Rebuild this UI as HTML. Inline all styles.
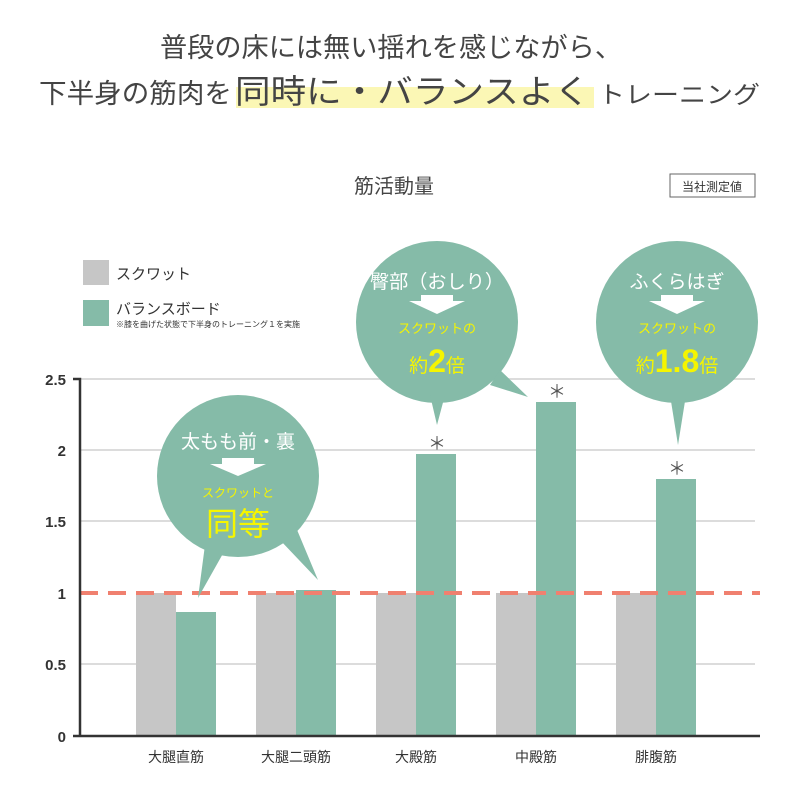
<!DOCTYPE html><html><head><meta charset="utf-8"><style>
body{margin:0;background:#fff;}
svg text{font-family:"Liberation Sans","Noto Sans CJK JP",sans-serif;}
</style></head><body>
<svg width="800" height="790" xmlns="http://www.w3.org/2000/svg">
<rect x="236" y="87" width="358" height="21" fill="#fbf7b5"/>
<text x="160" y="57" font-size="27" fill="#444" textLength="462" lengthAdjust="spacingAndGlyphs">普段の床には無い揺れを感じながら、</text>
<text x="39" y="103" font-size="27" fill="#444" textLength="193" lengthAdjust="spacingAndGlyphs">下半身の筋肉を</text>
<text x="235" y="103" font-size="33" fill="#444" textLength="355" lengthAdjust="spacingAndGlyphs">同時に・バランスよく</text>
<text x="598" y="103" font-size="24" fill="#444" textLength="162" lengthAdjust="spacingAndGlyphs">トレーニング</text>
<text x="394" y="193" font-size="20" fill="#444" text-anchor="middle">筋活動量</text>
<rect x="670" y="174" width="85" height="23" fill="#fff" stroke="#666" stroke-width="1"/>
<text x="712" y="191" font-size="12" fill="#333" text-anchor="middle">当社測定値</text>
<rect x="83" y="260" width="26" height="25" fill="#c6c6c6"/>
<text x="116" y="279" font-size="15" fill="#333">スクワット</text>
<rect x="83" y="300" width="26" height="26" fill="#85bba8"/>
<text x="116" y="314" font-size="15" fill="#333">バランスボード</text>
<text x="116" y="327" font-size="8" fill="#333">※膝を曲げた状態で下半身のトレーニング１を実施</text>
<g stroke="#dcdcdc" stroke-width="2">
<line x1="80" y1="379" x2="755" y2="379"/><line x1="80" y1="450" x2="755" y2="450"/><line x1="80" y1="521" x2="755" y2="521"/><line x1="80" y1="664" x2="755" y2="664"/>
</g>
<g fill="#c6c6c6">
<rect x="136" y="593" width="40" height="143"/><rect x="256" y="593" width="40" height="143"/><rect x="376" y="593" width="40" height="143"/><rect x="496" y="593" width="40" height="143"/><rect x="616" y="593" width="40" height="143"/>
</g>
<g fill="#85bba8">
<rect x="176" y="612" width="40" height="124"/><rect x="296" y="590" width="40" height="146"/><rect x="416" y="454" width="40" height="282"/><rect x="536" y="402" width="40" height="334"/><rect x="656" y="479" width="40" height="257"/>
</g>
<line x1="80" y1="593" x2="760" y2="593" stroke="#f0806f" stroke-width="4" stroke-dasharray="18,10"/>
<path d="M73 379H80V736H73M80 736H760" fill="none" stroke="#333" stroke-width="2.5"/>
<g font-size="15" font-weight="bold" fill="#333" text-anchor="end">
<text x="66" y="385">2.5</text><text x="66" y="456">2</text><text x="66" y="527">1.5</text><text x="66" y="599">1</text><text x="66" y="670">0.5</text><text x="66" y="742">0</text>
</g>
<g font-size="14" fill="#333" text-anchor="middle">
<text x="176" y="762">大腿直筋</text><text x="296" y="762">大腿二頭筋</text><text x="416" y="762">大殿筋</text><text x="536" y="762">中殿筋</text><text x="656" y="762">腓腹筋</text>
</g>
<g font-size="18" fill="#555" text-anchor="middle" font-family="Noto Sans CJK JP"><text x="437" y="450">＊</text><text x="557" y="398">＊</text><text x="677" y="475">＊</text></g>
<g fill="#85bba8">
<circle cx="238" cy="476" r="81"/><path d="M205 545L198 598L225 550ZM280 540L318 580L295 525Z"/>
<circle cx="437" cy="322" r="81"/><path d="M430 395L437 425L445 395ZM500 370L528 397L490 385Z"/>
<circle cx="677" cy="322" r="81"/><path d="M670 395L678 445L686 395Z"/>
</g>
<g fill="#fff" text-anchor="middle">
<text x="238" y="448" font-size="19">太もも前・裏</text>
<path d="M222 458H254V464H266L238 476L210 464H222Z"/>
<text x="437" y="288" font-size="19" textLength="134" lengthAdjust="spacingAndGlyphs">臀部（おしり）</text>
<path d="M421 295H453V301H465L437 314L409 301H421Z"/>
<text x="677" y="288" font-size="19">ふくらはぎ</text>
<path d="M661 295H693V301H705L677 314L649 301H661Z"/>
</g>
<g fill="#f5f500" text-anchor="middle">
<text x="238" y="497" font-size="12">スクワットと</text>
<text x="238" y="535" font-size="32">同等</text>
<text x="437" y="333" font-size="13">スクワットの</text>
<text x="437" y="372" font-size="19">約<tspan font-size="32" font-weight="bold">2</tspan>倍</text>
<text x="677" y="333" font-size="13">スクワットの</text>
<text x="677" y="372" font-size="19">約<tspan font-size="32" font-weight="bold">1.8</tspan>倍</text>
</g>
</svg>
</body></html>
